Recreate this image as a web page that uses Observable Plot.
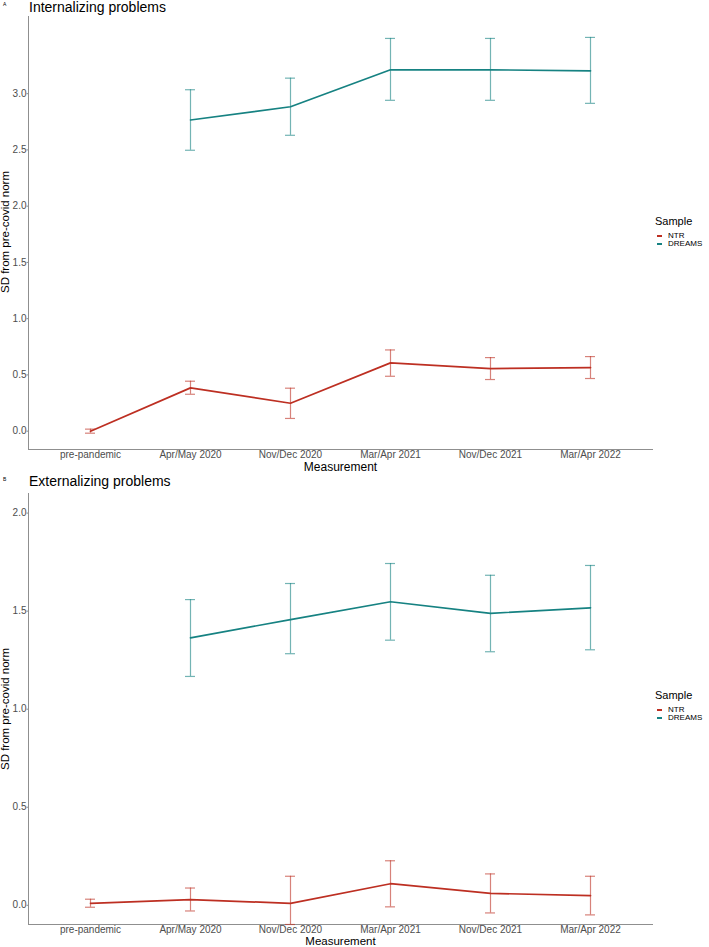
<!DOCTYPE html>
<html><head><meta charset="utf-8">
<script src="https://cdn.jsdelivr.net/npm/d3@7"></script>
<script src="https://cdn.jsdelivr.net/npm/@observablehq/plot@0.6"></script>
<style>
body{margin:0;background:#fff;font-family:"Liberation Sans",Arial,sans-serif;}
#wrap{position:relative;width:709px;height:947px;overflow:hidden;}
.panel{position:absolute;left:0;}
.ttl{position:absolute;font-size:14px;line-height:14px;color:#000;white-space:nowrap;}
.tag{position:absolute;font-size:5px;line-height:5px;color:#000;}
.ytl{position:absolute;font-size:11.5px;line-height:11.5px;color:#000;white-space:nowrap;transform:translate(-50%,-50%) rotate(-90deg);}
.leg{position:absolute;left:655px;color:#000;}
.leg .h{font-size:11px;line-height:11px;margin-bottom:5px;}
.leg .it{font-size:8px;line-height:8px;height:8px;display:flex;align-items:center;}
.leg .k{display:inline-block;width:5px;height:2px;margin-left:2px;margin-right:6px;}
</style></head>
<body><div id="wrap"></div>
<script>
const measurements = ["pre-pandemic","Apr/May 2020","Nov/Dec 2020","Mar/Apr 2021","Nov/Dec 2021","Mar/Apr 2022"];
const samples = ["NTR","DREAMS"];
const sampleColors = ["#bd2f22","#168282"];

// Panel A: Internalizing problems
const intNTR    = [0.00, 0.385, 0.248, 0.607, 0.556, 0.565];
const intNTRlo  = [-0.018, 0.328, 0.113, 0.488, 0.459, 0.468];
const intNTRhi  = [0.018, 0.444, 0.382, 0.722, 0.654, 0.663];
const intDRM    = [null, 2.766, 2.884, 3.212, 3.212, 3.203];
const intDRMlo  = [null, 2.497, 2.630, 2.941, 2.941, 2.914];
const intDRMhi  = [null, 3.035, 3.138, 3.491, 3.491, 3.500];

// Panel B: Externalizing problems
const extNTR    = [0.010, 0.029, 0.010, 0.110, 0.061, 0.049];
const extNTRlo  = [-0.010, -0.029, -0.128, -0.008, -0.039, -0.049];
const extNTRhi  = [0.031, 0.088, 0.148, 0.227, 0.160, 0.148];
const extDRM    = [null, 1.364, 1.457, 1.548, 1.489, 1.517];
const extDRMlo  = [null, 1.167, 1.283, 1.352, 1.293, 1.303];
const extDRMhi  = [null, 1.559, 1.641, 1.743, 1.683, 1.733];

const yTicksA = [0, 0.5, 1.0, 1.5, 2.0, 2.5, 3.0];
const yTicksB = [0, 0.5, 1.0, 1.5, 2.0];

function rows(ntr, ntrLo, ntrHi, drm, drmLo, drmHi) {
  const out = [];
  [[samples[0], ntr, ntrLo, ntrHi], [samples[1], drm, drmLo, drmHi]].forEach(([s, v, lo, hi]) => {
    measurements.forEach((m, i) => {
      if (v[i] != null) out.push({s, m, v: v[i], lo: lo[i], hi: hi[i]});
    });
  });
  return out;
}

function panel(data, {height, marginTop, marginBottom, domain, ticks, measDy, measSize}) {
  const axisGray = "#8f8f8f";
  const txtGray = "#4d4d4d";
  return Plot.plot({
    width: 709, height, marginLeft: 28, marginRight: 57, marginTop, marginBottom,
    style: {background: "transparent", overflow: "visible", fontFamily: "Liberation Sans, Arial, sans-serif"},
    x: {type: "point", domain: measurements, padding: 0.6},
    y: {domain, clamp: true},
    color: {domain: samples, range: sampleColors},
    marks: [
      Plot.frame({anchor: "left", stroke: axisGray, strokeWidth: 1}),
      Plot.frame({anchor: "bottom", stroke: axisGray, strokeWidth: 1}),
      Plot.axisY({ticks, tickFormat: d3.format(".1f"), tickSize: 1.5, tickPadding: 0.5, fontSize: 10, color: txtGray, stroke: axisGray, label: null}),
      Plot.axisX({tickSize: 1, tickPadding: 0, fontSize: 10, color: txtGray, stroke: axisGray, label: null}),
      Plot.text(["Measurement"], {frameAnchor: "bottom", lineAnchor: "middle", dy: measDy, fontSize: measSize, fill: "#000"}),
      Plot.ruleX(data, {x: "m", y1: "lo", y2: "hi", stroke: "s", strokeOpacity: 0.6, strokeWidth: 1.2}),
      Plot.ruleY(data, {x1: "m", x2: "m", y: "lo", stroke: "s", strokeOpacity: 0.6, strokeWidth: 1.2, insetLeft: -5, insetRight: -5}),
      Plot.ruleY(data, {x1: "m", x2: "m", y: "hi", stroke: "s", strokeOpacity: 0.6, strokeWidth: 1.2, insetLeft: -5, insetRight: -5}),
      Plot.line(data, {x: "m", y: "v", z: "s", stroke: "s", strokeWidth: 1.7})
    ]
  });
}

const wrap = document.getElementById("wrap");

const pA = panel(rows(intNTR, intNTRlo, intNTRhi, intDRM, intDRMlo, intDRMhi),
  {height: 472, marginTop: 16, marginBottom: 23, domain: [-0.163, 3.686], ticks: yTicksA, measDy: 17.5, measSize: 12});
pA.classList.add("panel"); pA.style.top = "0px";
wrap.appendChild(pA);

const pB = panel(rows(extNTR, extNTRlo, extNTRhi, extDRM, extDRMlo, extDRMhi),
  {height: 477, marginTop: 23, marginBottom: 23, domain: [-0.098, 2.10], ticks: yTicksB, measDy: 17, measSize: 11.5});
pB.classList.add("panel"); pB.style.top = "470px";
wrap.appendChild(pB);

function addDiv(cls, text, left, top) {
  const d = document.createElement("div");
  d.className = cls; d.textContent = text;
  d.style.left = left + "px"; d.style.top = top + "px";
  wrap.appendChild(d);
  return d;
}
addDiv("tag", "A", 3, 2);
addDiv("ttl", "Internalizing problems", 29, 0);
addDiv("tag", "B", 3, 477);
addDiv("ttl", "Externalizing problems", 29, 474);
addDiv("ytl", "SD from pre-covid norm", 6, 232);
addDiv("ytl", "SD from pre-covid norm", 6, 709);

function legend(top) {
  const L = document.createElement("div");
  L.className = "leg"; L.style.top = top + "px";
  const h = document.createElement("div"); h.className = "h"; h.textContent = "Sample"; L.appendChild(h);
  samples.forEach((s, i) => {
    const it = document.createElement("div"); it.className = "it";
    const k = document.createElement("span"); k.className = "k"; k.style.background = sampleColors[i];
    it.appendChild(k); it.appendChild(document.createTextNode(s));
    L.appendChild(it);
  });
  wrap.appendChild(L);
}
legend(216);
legend(690);
</script></body></html>
